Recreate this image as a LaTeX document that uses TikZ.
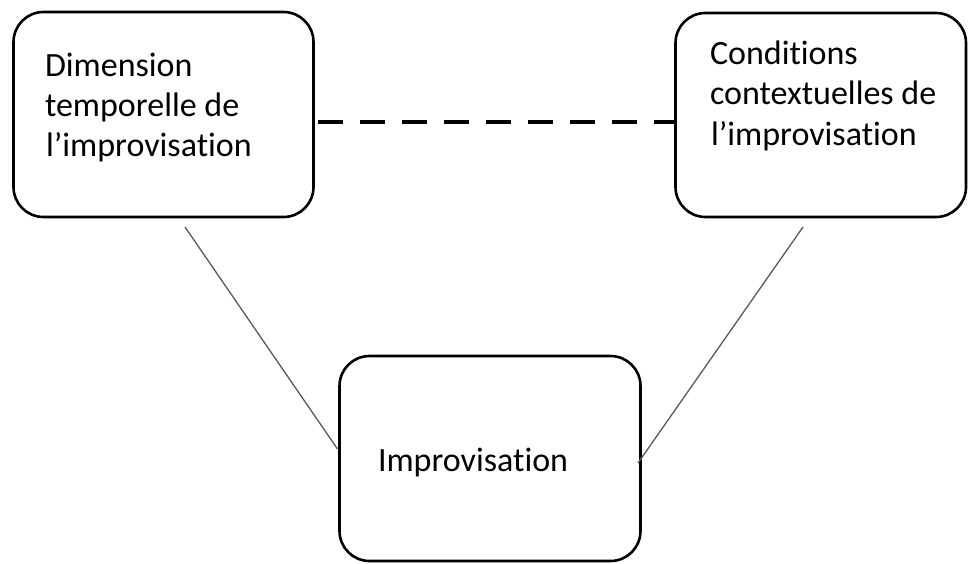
\documentclass[tikz,border=0pt]{standalone}
\usepackage{fontspec}
\setmainfont{Carlito}[Ligatures={NoCommon}]
\begin{document}
\begin{tikzpicture}[x=1pt,y=-1pt,
  box/.style={draw=black,line width=2.6pt,rounded corners=30pt,inner sep=0pt,outer sep=0pt},
  lbl/.style={anchor=base west,inner sep=0pt,outer sep=0pt,font=\fontsize{34}{40}\selectfont,text=black},
  dashline/.style={line width=4.5pt,dash pattern=on 25pt off 17pt},
  thin/.style={line width=1.3pt,draw=black!65}]
\useasboundingbox (0,0) rectangle (968,564);
\node[box,minimum width=300pt,minimum height=205pt] (L) at (163.5,114.5) {};
\node[box,minimum width=290.5pt,minimum height=204pt] (R) at (820.75,115) {};
\node[box,minimum width=301pt,minimum height=205pt] (B) at (490,458.5) {};
\node[lbl] (l1) at (45,77) {Dimension};
\node[lbl] (l2) at (45,117) {temporelle de};
\node[lbl] (l3) at (46,157) {l’improvisation};
\node[lbl] (r1) at (710,65) {Conditions};
\node[lbl] (r2) at (710,105) {contextuelles de};
\node[lbl] (r3) at (711,146) {l’improvisation};
\node[lbl] (b1) at (378,471) {Improvisation};
\coordinate (ds) at (318,122);
\coordinate (de) at (675.5,122);
\draw[dashline] (ds) -- (de);
\coordinate (la) at (185,227);
\coordinate (lb) at (337.5,449);
\coordinate (ra) at (803,227);
\coordinate (rb) at (638,463);
\draw[thin] (la) -- (lb);
\draw[thin] (ra) -- (rb);
\end{tikzpicture}
\end{document}
